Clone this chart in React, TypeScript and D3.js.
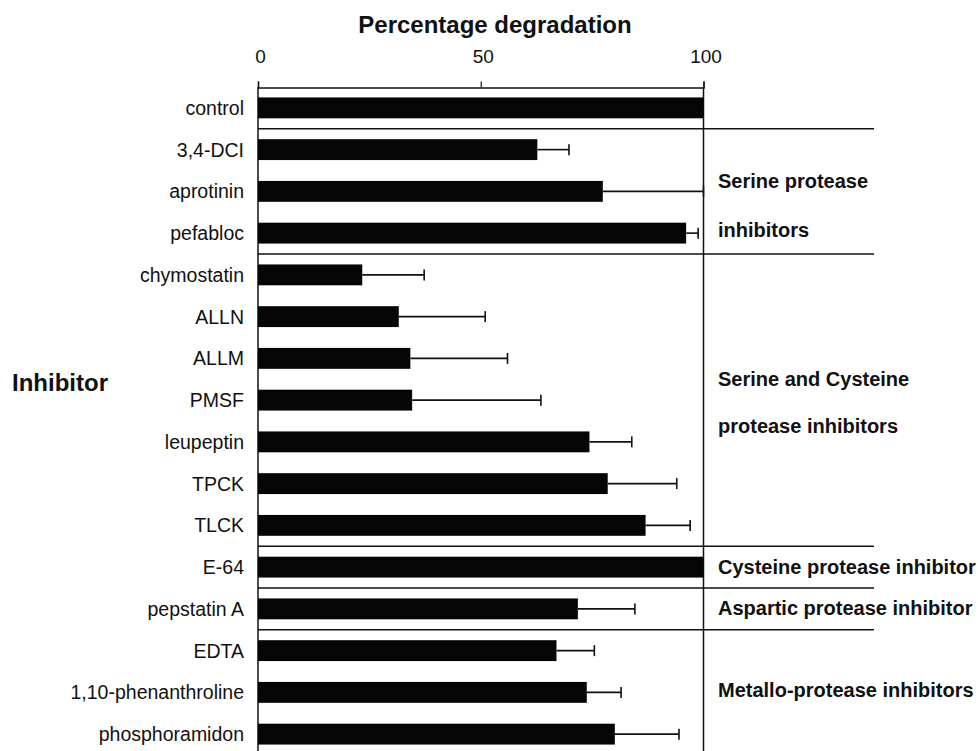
import { useEffect, useRef } from 'react';
import * as d3 from 'd3';

const WIDTH = 978;
const HEIGHT = 751;
const FONT = '"Liberation Sans", Arial, Helvetica, sans-serif';

const categories = [
  'control',
  '3,4-DCI',
  'aprotinin',
  'pefabloc',
  'chymostatin',
  'ALLN',
  'ALLM',
  'PMSF',
  'leupeptin',
  'TPCK',
  'TLCK',
  'E-64',
  'pepstatin A',
  'EDTA',
  '1,10-phenanthroline',
  'phosphoramidon',
];
const degradation = [100, 62.7, 77.4, 96.1, 23.4, 31.6, 34.2, 34.6, 74.4, 78.5, 87.0, 100, 71.8, 67.0, 73.8, 80.1];
const errors = [0, 7.1, 22.6, 2.7, 13.9, 19.4, 21.8, 28.9, 9.5, 15.5, 10.0, 0, 12.8, 8.5, 7.7, 14.4];
const xTicks = [0, 50, 100];
// last inhibitor of each group: a rule is drawn under it
const groupEnds = ['control', 'pefabloc', 'TLCK', 'E-64', 'pepstatin A'];
const groupLabels = [
  'Serine protease',
  'inhibitors',
  'Serine and Cysteine',
  'protease inhibitors',
  'Cysteine protease inhibitor',
  'Aspartic protease inhibitor',
  'Metallo-protease inhibitors',
];
// which row each group label line sits next to, and a small nudge
const GROUP_LABEL_ROWS = [
  { row: 'aprotinin', dy: -3 },
  { row: 'pefabloc', dy: 4 },
  { row: 'ALLM', dy: 28 },
  { row: 'leupeptin', dy: -9 },
  { row: 'E-64', dy: 7 },
  { row: 'pepstatin A', dy: 6 },
  { row: '1,10-phenanthroline', dy: 5 },
];

export default function App() {
  const svgRef = useRef<SVGSVGElement>(null);

  useEffect(() => {
    if (!svgRef.current) return;
    const svg = d3.select(svgRef.current);
    svg.selectAll('*').remove();

    const x = d3.scaleLinear().domain([0, 100]).range([258, 703.5]);
    const y = d3.scaleBand<string>().domain(categories).range([87, 755]).paddingInner(0.5).paddingOuter(0.25);
    const bw = y.bandwidth();
    const step = y.step();
    const ink = '#111';

    // title
    svg
      .append('text')
      .attr('x', 495)
      .attr('y', 33)
      .attr('text-anchor', 'middle')
      .attr('font-family', FONT)
      .attr('font-weight', 'bold')
      .attr('font-size', 24)
      .attr('fill', ink)
      .text('Percentage degradation');

    // top axis
    const axis = d3.axisTop(x).tickValues(xTicks).tickSize(6).tickPadding(19).tickFormat((v) => String(v));
    const ag = svg.append('g').attr('transform', 'translate(0,87.5)').call(axis);
    ag.select('.domain').attr('stroke', ink).attr('stroke-width', 1.5);
    ag.selectAll('.tick line').attr('stroke', ink).attr('stroke-width', 1.2);
    ag.selectAll('.tick text')
      .attr('font-family', FONT)
      .attr('font-size', 19)
      .attr('fill', ink)
      .attr('dx', 2);

    // frame verticals at 0 and 100
    [0, 100].forEach((v) => {
      svg
        .append('line')
        .attr('x1', x(v))
        .attr('x2', x(v))
        .attr('y1', 87)
        .attr('y2', HEIGHT)
        .attr('stroke', ink)
        .attr('stroke-width', 1.5);
    });

    // group separators
    svg
      .selectAll('line.sep')
      .data(groupEnds)
      .enter()
      .append('line')
      .attr('class', 'sep')
      .attr('x1', x(0))
      .attr('x2', 874)
      .attr('y1', (d) => (y(d) ?? 0) + bw / 2 + step / 2)
      .attr('y2', (d) => (y(d) ?? 0) + bw / 2 + step / 2)
      .attr('stroke', ink)
      .attr('stroke-width', 1.6);

    // bars
    svg
      .selectAll('rect.bar')
      .data(categories)
      .enter()
      .append('rect')
      .attr('class', 'bar')
      .attr('x', x(0))
      .attr('y', (d) => y(d) ?? 0)
      .attr('width', (_, i) => x(degradation[i]) - x(0))
      .attr('height', bw)
      .attr('fill', '#050505');

    // error bars
    const eb = svg
      .selectAll('g.err')
      .data(categories.filter((_, i) => errors[i] > 0))
      .enter()
      .append('g')
      .attr('class', 'err');
    eb.append('line')
      .attr('x1', (d) => x(degradation[categories.indexOf(d)]))
      .attr('x2', (d) => {
        const i = categories.indexOf(d);
        return x(degradation[i] + errors[i]);
      })
      .attr('y1', (d) => (y(d) ?? 0) + bw / 2)
      .attr('y2', (d) => (y(d) ?? 0) + bw / 2)
      .attr('stroke', ink)
      .attr('stroke-width', 1.6);
    eb.append('line')
      .attr('x1', (d) => {
        const i = categories.indexOf(d);
        return x(degradation[i] + errors[i]);
      })
      .attr('x2', (d) => {
        const i = categories.indexOf(d);
        return x(degradation[i] + errors[i]);
      })
      .attr('y1', (d) => (y(d) ?? 0) + bw / 2 - 5.5)
      .attr('y2', (d) => (y(d) ?? 0) + bw / 2 + 5.5)
      .attr('stroke', ink)
      .attr('stroke-width', 1.6);

    // category labels
    svg
      .selectAll('text.cat')
      .data(categories)
      .enter()
      .append('text')
      .attr('class', 'cat')
      .attr('x', 244)
      .attr('y', (d) => (y(d) ?? 0) + bw / 2)
      .attr('dy', '0.36em')
      .attr('text-anchor', 'end')
      .attr('font-family', FONT)
      .attr('font-size', 19.5)
      .attr('fill', ink)
      .text((d) => d);

    // axis title on the left
    svg
      .append('text')
      .attr('x', 12)
      .attr('y', 391)
      .attr('font-family', FONT)
      .attr('font-weight', 'bold')
      .attr('font-size', 24)
      .attr('fill', ink)
      .text('Inhibitor');

    // group labels on the right
    svg
      .selectAll('text.grp')
      .data(groupLabels)
      .enter()
      .append('text')
      .attr('class', 'grp')
      .attr('x', 718)
      .attr('y', (_, i) => (y(GROUP_LABEL_ROWS[i].row) ?? 0) + bw / 2 + GROUP_LABEL_ROWS[i].dy)
      .attr('font-family', FONT)
      .attr('font-weight', 'bold')
      .attr('font-size', 20)
      .attr('fill', ink)
      .text((d) => d);
  }, []);

  return (
    <svg
      ref={svgRef}
      width={WIDTH}
      height={HEIGHT}
      style={{ position: 'absolute', left: 0, top: 0, background: '#fff' }}
    />
  );
}
